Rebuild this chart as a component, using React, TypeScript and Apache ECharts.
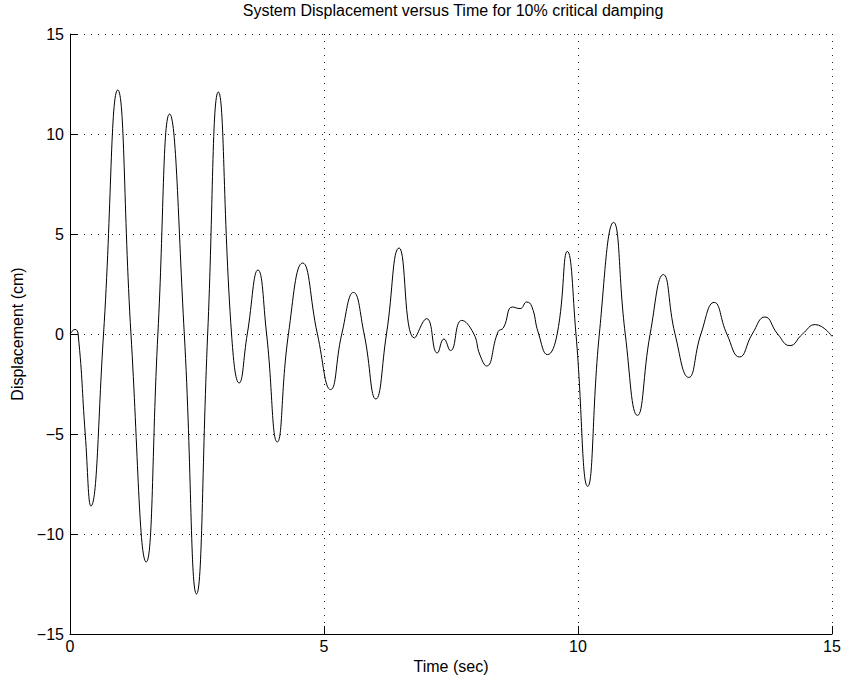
import React, { useEffect, useRef } from "react";
import * as echarts from "echarts";

const timeSec = [
  0, 0.1, 0.16, 0.3, 0.41, 0.66, 0.94, 1.2, 1.5, 1.73, 1.96, 2.25, 2.49, 2.71, 2.92, 3.18,
  3.33, 3.49, 3.7, 3.87, 4.08, 4.3, 4.58, 4.87, 5.13, 5.35, 5.58, 5.79, 6.02, 6.23, 6.48,
  6.78, 7.02, 7.23, 7.36, 7.49, 7.71, 7.94, 8.07, 8.2, 8.43, 8.53, 8.71, 8.86, 8.99, 9.09,
  9.22, 9.4, 9.59, 9.79, 9.96, 10.19, 10.42, 10.7, 10.93, 11.17, 11.42, 11.68, 11.91, 12.18,
  12.42, 12.68, 12.93, 13.18, 13.43, 13.68, 13.93, 14.17, 14.42, 14.67, 15.0,
];
const displacementCm = [
  0, 0.23, 0, -5, -8.6, 0, 12.2, 0, -11.4, 0, 11.0, 0, -13.0, 0, 12.1, 0,
  -2.45, 0, 3.2, 0, -5.4, 0, 3.55, 0, -2.78, 0, 2.08, 0, -3.25, 0, 4.3,
  -0.2, 0.77, -0.95, -0.25, -0.83, 0.68, 0.05, -1.05, -1.6, 0.13, 0.3, 1.35, 1.27, 1.6, 1.38,
  0.05, -1.03, 0, 4.13, 0, -7.62, 0, 5.58, 0, -4.07, 0, 2.97, 0, -2.17,
  0, 1.58, 0, -1.15, 0, 0.85, 0, -0.58, 0, 0.47, -0.12,
];
const xTicks = [0, 5, 10, 15];
const yTicks = [-15, -10, -5, 0, 5, 10, 15];

const titleText = "System Displacement versus Time for 10% critical damping";
const xName = "Time (sec)";
const yName = "Displacement (cm)";

export default function App() {
  const ref = useRef<HTMLDivElement>(null);
  useEffect(() => {
    if (!ref.current) return;
    const chart = echarts.init(ref.current, null, { renderer: "svg" });
    const font = "Liberation Sans, Arial, Helvetica, sans-serif";
    const dotted = { color: "#222", width: 1, type: [1, 6] as any };
    chart.setOption({
      animation: false,
      backgroundColor: "#fff",
      title: {
        text: titleText,
        left: 453,
        textAlign: "center",
        top: 2,
        padding: 0,
        textStyle: { fontFamily: font, fontSize: 16, fontWeight: "normal", color: "#000" },
      },
      grid: { left: 70, right: 14, top: 34, bottom: 51, containLabel: false },
      xAxis: {
        type: "value",
        min: xTicks[0],
        max: xTicks[xTicks.length - 1],
        interval: 5,
        name: xName,
        nameLocation: "middle",
        nameGap: 21,
        nameTextStyle: { fontFamily: font, fontSize: 16, color: "#000" },
        axisLine: { show: true, onZero: false, lineStyle: { color: "#000", width: 1 } },
        axisTick: { show: true, inside: true, length: 8, lineStyle: { color: "#000" } },
        axisLabel: { fontFamily: font, fontSize: 16, color: "#000", margin: 4 },
        splitLine: { show: true, showMinLine: false, lineStyle: dotted },
      },
      yAxis: {
        type: "value",
        min: yTicks[0],
        max: yTicks[yTicks.length - 1],
        interval: 5,
        name: yName,
        nameLocation: "middle",
        nameGap: 45,
        nameTextStyle: { fontFamily: font, fontSize: 16, color: "#000" },
        axisLine: { show: true, onZero: false, lineStyle: { color: "#000", width: 1 } },
        axisTick: { show: true, inside: true, length: 8, lineStyle: { color: "#000" } },
        axisLabel: {
          fontFamily: font,
          fontSize: 16,
          color: "#000",
          margin: 6,
          formatter: (v: number) => (v < 0 ? "\u2212" + Math.abs(v) : String(v)),
        },
        splitLine: { show: true, showMinLine: false, lineStyle: dotted },
      },
      series: [
        {
          type: "line",
          data: timeSec.map((t, i) => [t, displacementCm[i]]),
          smooth: 0.5,
          showSymbol: false,
          lineStyle: { color: "#000", width: 1 },
        },
      ],
    });
    return () => chart.dispose();
  }, []);
  return (
    <div
      ref={ref}
      style={{ position: "fixed", left: 0, top: 0, width: 846, height: 685, background: "#fff" }}
    />
  );
}
